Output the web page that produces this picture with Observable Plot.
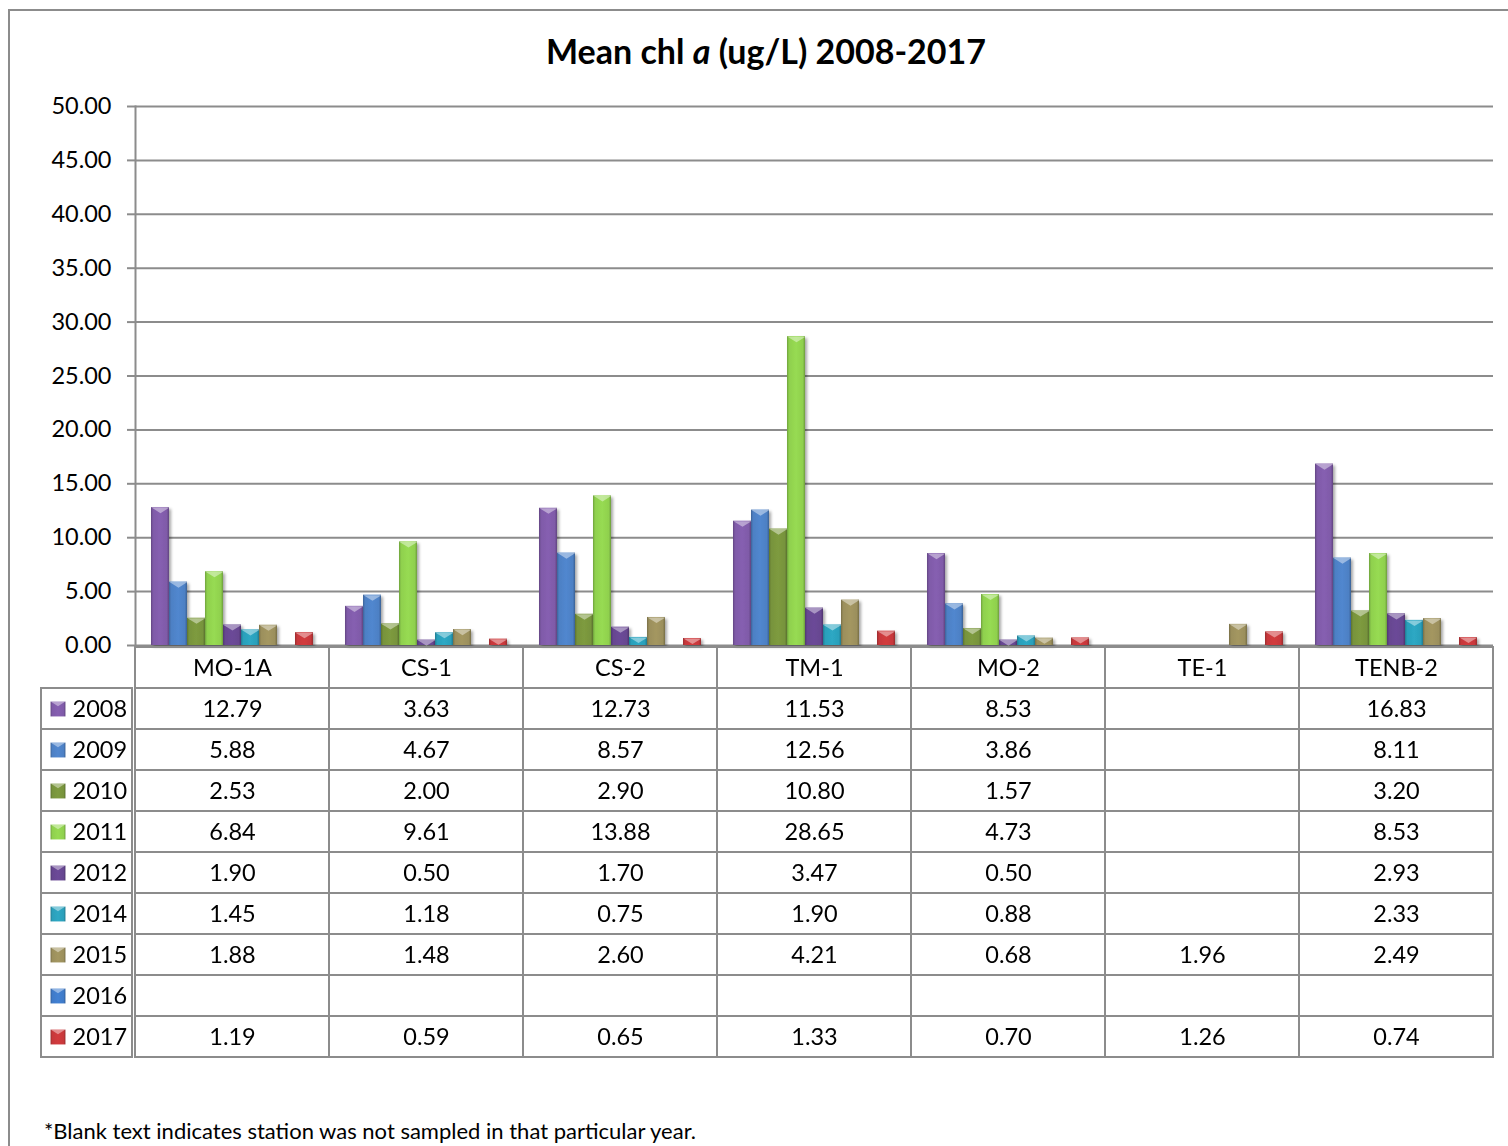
<!DOCTYPE html>
<html>
<head>
<meta charset="utf-8">
<script src="https://cdn.jsdelivr.net/npm/d3@7"></script>
<script src="https://cdn.jsdelivr.net/npm/@observablehq/plot@0.6"></script>
<style>
  body { margin: 0; background: #fff; font-family: Lato, "Open Sans", sans-serif; color: #000; }
  #frame { position: absolute; left: 8px; top: 9px; width: 1530px; height: 1170px; border: 2px solid #8c8c8c; box-sizing: border-box; }
  #title { position: absolute; left: 0; width: 1532px; top: 30px; text-align: center; font-weight: bold; font-size: 34px; }
  #chart { position: absolute; left: 0; top: 80px; }
  #table { position: absolute; left: 0; top: 644px; }
  #note { position: absolute; left: 44px; top: 1117px; font-size: 22px; }
  #defs { position: absolute; left: 0; top: 0; width: 0; height: 0; }
</style>
</head>
<body>
<div id="frame"></div>
<div id="title">Mean chl <i>a</i> (ug/L) 2008-2017</div>
<div id="chart"></div>
<div id="table"></div>
<div id="note">*Blank text indicates station was not sampled in that particular year.</div>
<svg id="defs"></svg>
<script>
// Stations (categories) and sampling years (series)
const stations = ["MO-1A", "CS-1", "CS-2", "TM-1", "MO-2", "TE-1", "TENB-2"];
const years = ["2008", "2009", "2010", "2011", "2012", "2014", "2015", "2016", "2017"];

// Mean chlorophyll a (ug/L) per station; null = not sampled
const v2008 = [12.79, 3.63, 12.73, 11.53, 8.53, null, 16.83];
const v2009 = [5.88, 4.67, 8.57, 12.56, 3.86, null, 8.11];
const v2010 = [2.53, 2.00, 2.90, 10.80, 1.57, null, 3.20];
const v2011 = [6.84, 9.61, 13.88, 28.65, 4.73, null, 8.53];
const v2012 = [1.90, 0.50, 1.70, 3.47, 0.50, null, 2.93];
const v2014 = [1.45, 1.18, 0.75, 1.90, 0.88, null, 2.33];
const v2015 = [1.88, 1.48, 2.60, 4.21, 0.68, 1.96, 2.49];
const v2016 = [null, null, null, null, null, null, null];
const v2017 = [1.19, 0.59, 0.65, 1.33, 0.70, 1.26, 0.74];

const yTicks = [0, 5, 10, 15, 20, 25, 30, 35, 40, 45, 50];

// Series colours
const seriesColors = ["#7f5aa8", "#4d80c4", "#77933c", "#8fd04e", "#664690", "#2b9fba", "#9b8f5c", "#3f7ac8", "#c7383b"];

const series = {"2008": v2008, "2009": v2009, "2010": v2010, "2011": v2011, "2012": v2012,
                "2014": v2014, "2015": v2015, "2016": v2016, "2017": v2017};

const rows = stations.flatMap((station, i) =>
  years.map(year => ({station, year, value: series[year][i]})));
const bars = rows.filter(d => d.value != null);

// Bevelled fill: horizontal gradient per series, referenced through the colour scale
const defs = d3.select("#defs").append("defs");
years.forEach((y, i) => {
  const base = d3.color(seriesColors[i]);
  const g = defs.append("linearGradient").attr("id", `bevel-${y}`)
    .attr("x1", 0).attr("x2", 1).attr("y1", 0).attr("y2", 0);
  [[0, base.darker(0.7)], [0.12, base], [0.5, base.brighter(0.15)], [0.88, base], [1, base.darker(0.8)]]
    .forEach(([o, c]) => g.append("stop").attr("offset", o).attr("stop-color", c.formatHex()));
});
const shadow = defs.append("filter").attr("id", "bar-shadow")
  .attr("x", "-30%").attr("y", "-10%").attr("width", "160%").attr("height", "130%");
shadow.append("feDropShadow").attr("dx", 2).attr("dy", 2).attr("stdDeviation", 1.8)
  .attr("flood-color", "#000").attr("flood-opacity", 0.35);

const colorScale = {domain: years, range: years.map(y => `url(#bevel-${y})`)};

// Light triangular cap on top of each bar
const cap = {
  draw(context, size) {
    const r = Math.sqrt(size / Math.PI);
    context.moveTo(-r, 0);
    context.lineTo(r, 0);
    context.lineTo(0, r * 0.62);
    context.closePath();
  }
};

const W = 1508, ML = 132, MR = 13;
const frameWidth = W - ML - MR;
const grey = "#8c8c8c";
const fs = 23.5;
const font = "Lato, 'Open Sans', sans-serif";

const chart = Plot.plot({
  width: W, height: 585,
  marginLeft: ML, marginRight: MR, marginTop: 26, marginBottom: 20,
  style: {fontFamily: font, fontSize: fs + "px", color: "#000", background: "transparent", overflow: "visible"},
  fx: {domain: stations, padding: 0, axis: null},
  x: {domain: years, paddingInner: 0, paddingOuter: 0.75, axis: null},
  y: {domain: [0, 50], axis: null},
  color: colorScale,
  marks: [
    Plot.gridY(yTicks, {stroke: grey, strokeOpacity: 1, strokeWidth: 2}),
    Plot.axisY(yTicks, {anchor: "left", tickSize: 8, tickPadding: 16, stroke: grey, strokeWidth: 2,
      fill: "#000", fontSize: fs, tickFormat: d3.format(".2f"), label: null}),
    Plot.frame({anchor: "left", stroke: grey, strokeWidth: 2, facetAnchor: "left"}),
    Plot.barY(bars, {fx: "station", x: "year", y: "value", fill: "year"}),
    Plot.dot(bars, {fx: "station", x: "year", y: "value", symbol: cap, r: 9,
      fill: "white", fillOpacity: 0.42})
  ]
});
d3.select(chart).selectAll("g[aria-label='bar']").attr("filter", "url(#bar-shadow)");
document.getElementById("chart").append(chart);

// Data table beneath the chart
const headerRow = "";
const tableRows = [headerRow, ...years];
const gridCells = stations.flatMap(station => tableRows.map(row => ({station, row})));

const table = Plot.plot({
  width: W, height: 417,
  marginLeft: ML, marginRight: MR, marginTop: 1, marginBottom: 2,
  style: {fontFamily: font, fontSize: fs + "px", color: "#000", background: "transparent"},
  x: {domain: stations, padding: 0, axis: null},
  y: {domain: tableRows, padding: 0, axis: null},
  color: colorScale,
  marks: [
    Plot.cell(gridCells, {x: "station", y: "row", fill: "none", stroke: grey, strokeWidth: 2}),
    Plot.cell(years, {y: d => d, fill: "none", stroke: grey, strokeWidth: 2,
      insetLeft: -(ML - 41), insetRight: frameWidth}),
    Plot.dot(years, {y: d => d, frameAnchor: "left", dx: -74.5, symbol: "square", r: 8.4, fill: d => d}),
    Plot.dot(years, {y: d => d, frameAnchor: "left", dx: -74.5, dy: -7.4, symbol: cap, r: 7.4,
      fill: "white", fillOpacity: 0.42}),
    Plot.text(years, {y: d => d, frameAnchor: "left", dx: -60, textAnchor: "start", fontSize: fs}),
    Plot.text(stations, {x: d => d, y: () => headerRow, fontSize: fs}),
    Plot.text(bars, {x: "station", y: "year", text: d => d.value.toFixed(2), fontSize: fs})
  ]
});
document.getElementById("table").append(table);
</script>
</body>
</html>
